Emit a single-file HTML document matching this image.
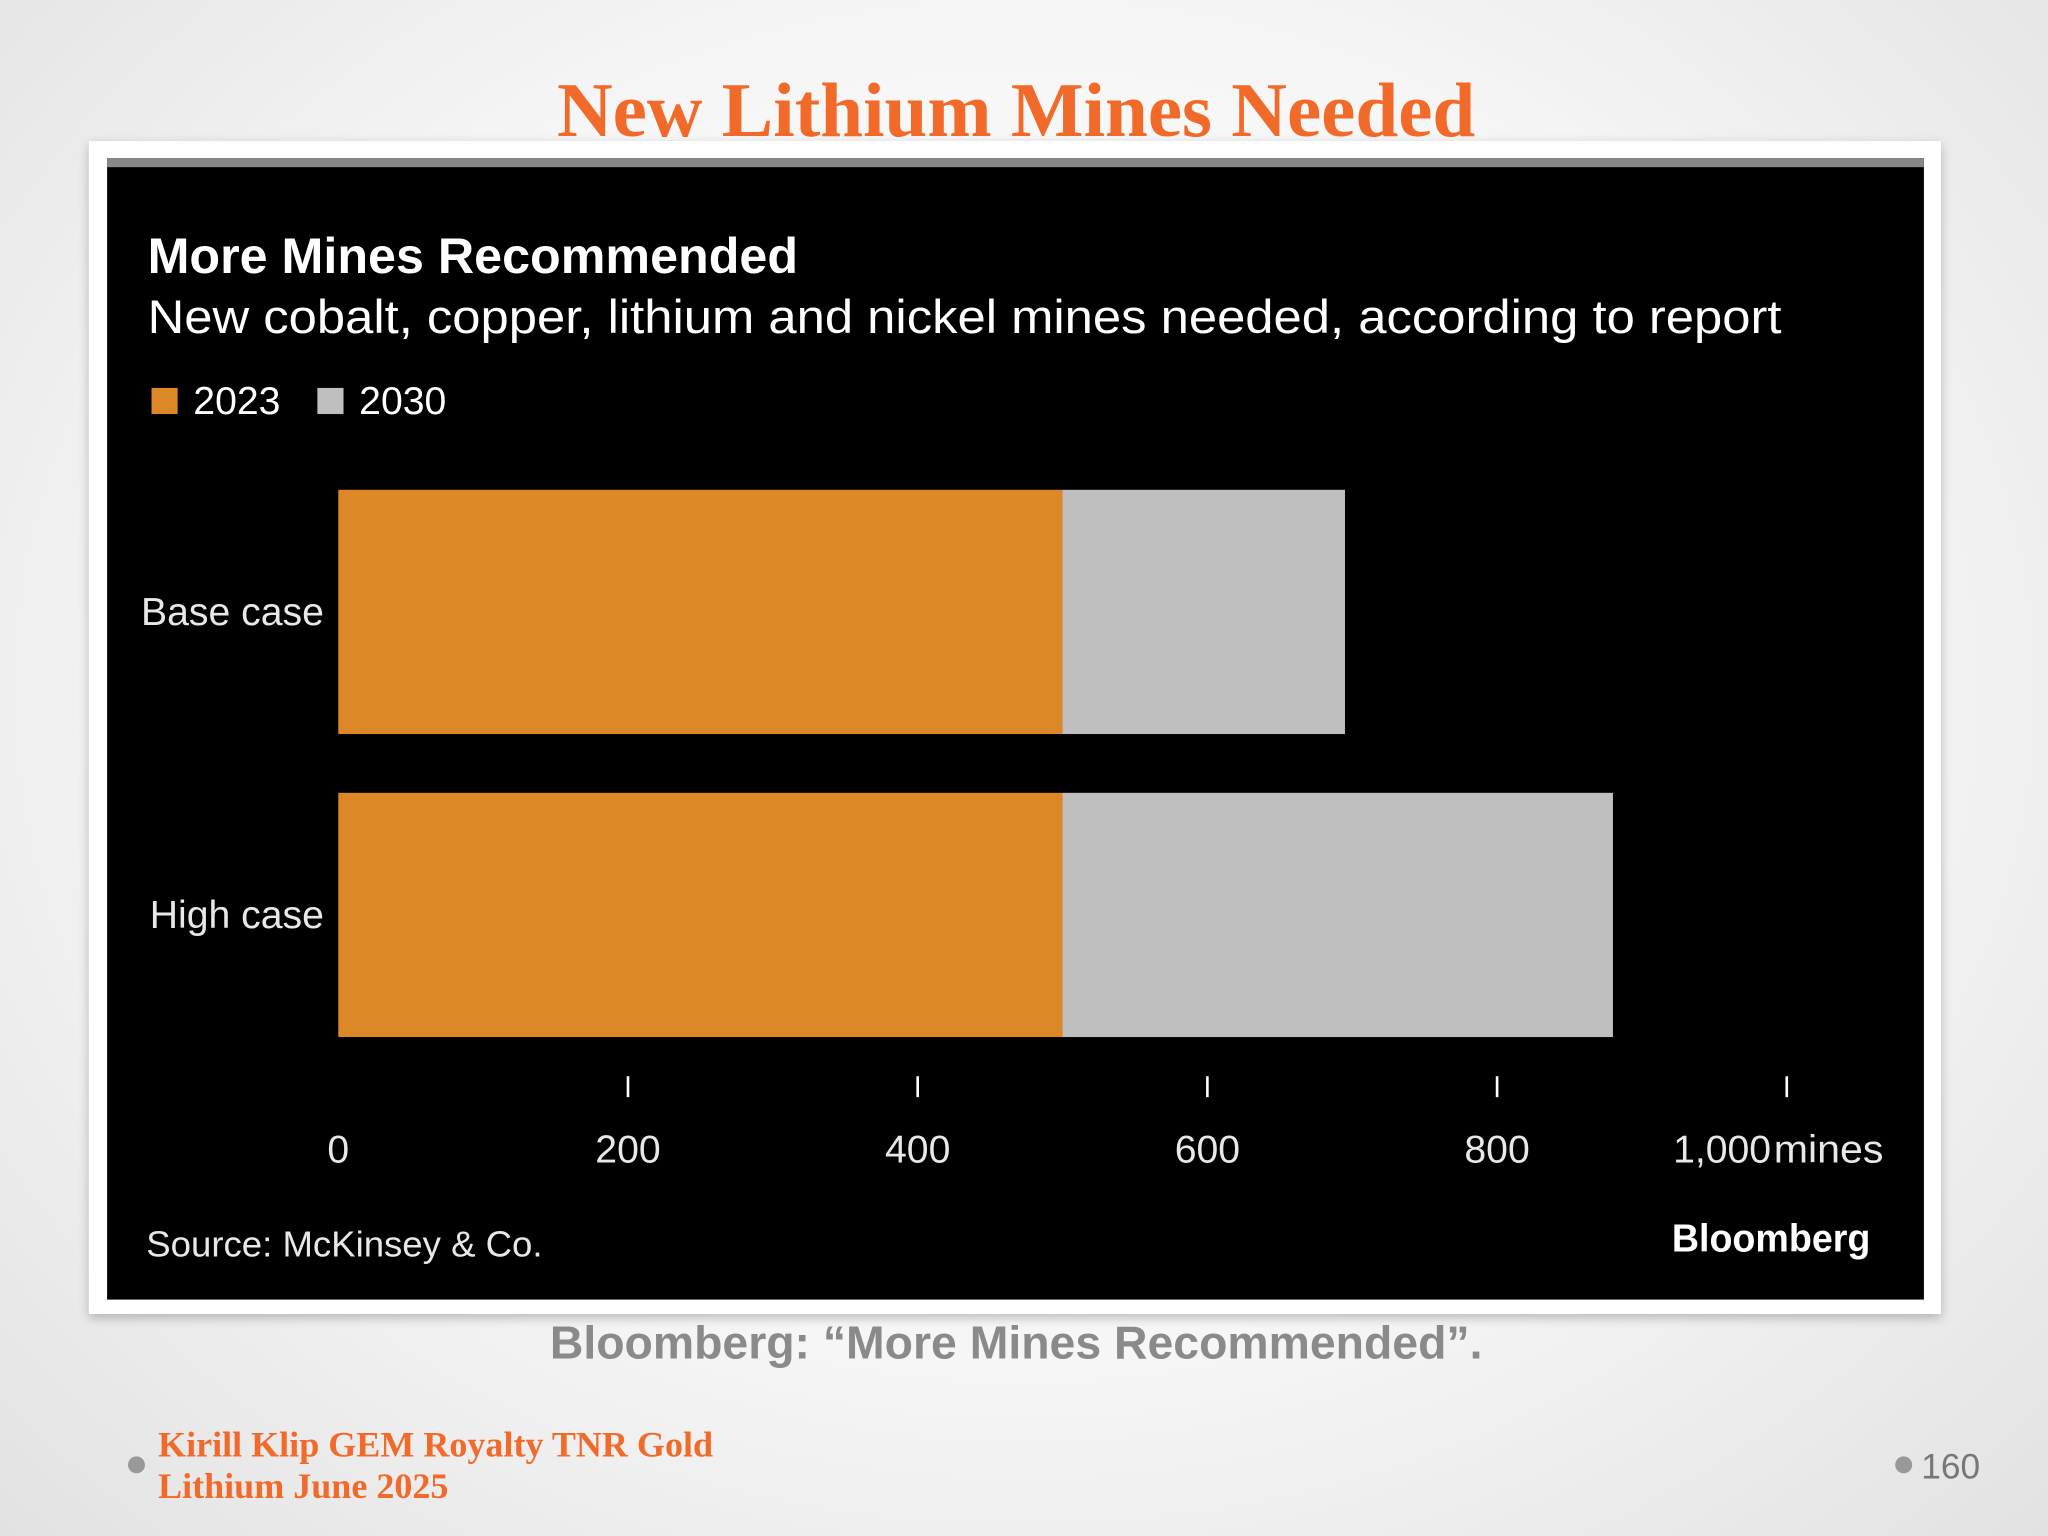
<!DOCTYPE html>
<html><head><meta charset="utf-8">
<style>
html,body{margin:0;padding:0;}
body{width:2048px;height:1536px;overflow:hidden;background:radial-gradient(ellipse at 50% 45%,#ffffff 0%,#f6f6f6 55%,#e2e2e2 100%);}
#stage{position:absolute;left:0;top:0;width:1568px;height:1176px;transform:scale(1.306122);transform-origin:0 0;font-family:"Liberation Sans","DejaVu Sans",sans-serif;}
.abs{position:absolute;}
</style></head><body>
<div id="stage">
  <div class="abs" style="left:0;width:1556px;top:50px;text-align:center;font-family:'Liberation Serif',serif;font-weight:bold;font-size:59px;color:#f26a2a;">New Lithium Mines Needed</div>
  <div class="abs" style="left:68px;top:108px;width:1418px;height:898px;background:#fff;box-shadow:0 3px 8px rgba(0,0,0,0.25);"></div>
  <div class="abs" style="left:82px;top:121px;width:1391px;height:874px;background:#000;border-top:7px solid #888;box-sizing:border-box;"></div>
  <svg class="abs" id="chart" style="left:0;top:0" width="1568" height="1176"></svg>
  <div class="abs" style="left:0;width:1556px;top:1008px;text-align:center;font-weight:bold;font-size:35.5px;color:#8a8a8a;">Bloomberg: “More Mines Recommended”.</div>
  <div class="abs" style="left:98px;top:1115px;width:13px;height:13px;border-radius:50%;background:#999;"></div>
  <div class="abs" style="left:121px;top:1090px;font-family:'Liberation Serif',serif;font-weight:bold;font-size:27.6px;line-height:32px;color:#f26a2a;">Kirill Klip GEM Royalty TNR Gold<br>Lithium June 2025</div>
  <div class="abs" style="left:1451px;top:1115px;width:13px;height:13px;border-radius:50%;background:#999;"></div>
  <div class="abs" style="left:1471px;top:1108px;font-size:27px;color:#777;">160</div>
</div>
<script>
const categories=["Base case","High case"];
const values2023=[500,500];
const values2030=[195,380];
const ticks=[0,200,400,600,800,1000];
const tickLabels=["0","200","400","600","800","1,000"];
const NS="http://www.w3.org/2000/svg";
const svg=document.getElementById('chart');
const x0=259,pxPer=(1368-259)/1000;
const xs=v=>x0+v*pxPer;
const bandTop=[375,607],bandH=187;
function el(tag,attrs,text){const e=document.createElementNS(NS,tag);for(const k in attrs)e.setAttribute(k,attrs[k]);if(text!==undefined)e.textContent=text;svg.appendChild(e);return e;}
const ff='"Liberation Sans","DejaVu Sans",sans-serif';
let t=el('text',{x:113,y:209,fill:'#fff','font-size':38,'font-weight':'bold','font-family':ff,textLength:498,lengthAdjust:'spacingAndGlyphs'},'More Mines Recommended');


t=el('text',{x:113,y:255,fill:'#fff','font-size':36,'font-family':ff,textLength:1251,lengthAdjust:'spacingAndGlyphs'},'New cobalt, copper, lithium and nickel mines needed, according to report');


let r=el('rect',{x:116,y:297,width:20,height:20,fill:'#dc8826'});


t=el('text',{x:148,y:317,fill:'#fff','font-size':30,'font-family':ff},'2023');


r=el('rect',{x:243,y:297,width:20,height:20,fill:'#bfbfbf'});


t=el('text',{x:275,y:317,fill:'#fff','font-size':30,'font-family':ff},'2030');


categories.forEach((c,i)=>{
  const y=bandTop[i];
  let b=el('rect',{x:xs(0),y:y,width:xs(values2023[i])-xs(0),height:bandH,fill:'#dc8826'});
  
  
  b=el('rect',{x:xs(values2023[i]),y:y,width:xs(values2023[i]+values2030[i])-xs(values2023[i]),height:bandH,fill:'#bfbfbf'});
  
  
  const l=el('text',{x:248,y:y+bandH/2+10,fill:'#e8e8e8','font-size':30,'font-family':ff,'text-anchor':'end'},c);
  
  
});
ticks.forEach((v,i)=>{
  if(v>0){const k=el('line',{x1:xs(v),x2:xs(v),y1:824,y2:840,stroke:'#fff','stroke-width':2});
  
  }
  const last=i===ticks.length-1;
  const l=el('text',{x:last?xs(v)-12:xs(v),y:890,fill:'#e8e8e8','font-size':30,'font-family':ff,'text-anchor':last?'end':'middle'},tickLabels[i]);
  
  
});
t=el('text',{x:xs(1000)-10,y:890,fill:'#e8e8e8','font-size':30,'font-family':ff,textLength:84,lengthAdjust:'spacingAndGlyphs'},'mines');


t=el('text',{x:112,y:962,fill:'#e8e8e8','font-size':28,'font-family':ff},'Source: McKinsey & Co.');


t=el('text',{x:1432,y:958,fill:'#fff','font-size':30,'font-weight':'bold','font-family':ff,'text-anchor':'end',textLength:152,lengthAdjust:'spacingAndGlyphs'},'Bloomberg');


</script>
</body></html>
